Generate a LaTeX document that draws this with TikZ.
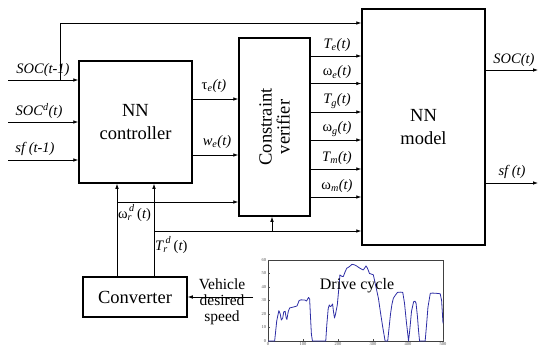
\documentclass[tikz,border=0pt]{standalone}
\usepackage{fontspec}
\setmainfont{Liberation Serif}
\usetikzlibrary{arrows.meta}
\definecolor{curveblue}{RGB}{45,45,165}
\tikzset{
  blk/.style={draw, line width=1.5pt, inner sep=0pt, fill=white},
  conn/.style={line width=0.8pt},
  arr/.style={conn, -{Latex[length=5pt,width=3.6pt]}},
  lbl/.style={font=\fontsize{14.5}{15}\selectfont\itshape, inner sep=0pt},
  big/.style={font=\fontsize{18.5}{23}\selectfont, align=center},
  tick/.style={font=\fontsize{4.5}{5}\selectfont, text=black!70, inner sep=0.8pt}
}
\begin{document}
\begin{tikzpicture}[x=1pt,y=-1pt]
\useasboundingbox (0,0) rectangle (538,349);
% blocks
\node[blk, minimum width=113pt, minimum height=122pt] (ctrl) at (135.5,122) {};
\node[big] at (ctrl.center) {NN\\controller};
\node[blk, minimum width=71pt, minimum height=178pt] (ver) at (274.5,127) {};
\node[big, rotate=90] at (ver.center) {Constraint\\[-5pt]verifier};
\node[blk, minimum width=123pt, minimum height=236pt] (model) at (423.5,127) {};
\node[big] at (model.center) {NN\\model};
\node[blk, minimum width=104pt, minimum height=40pt] (conv) at (135,297) {};
\node[big] at (conv.center) {Converter};

% inputs to controller
\coordinate (i1) at (8,80);
\coordinate (i2) at (8,122);
\coordinate (i3) at (8,160);
\coordinate (br) at (60,80);
\coordinate (top) at (60,23);
\draw[arr] (i1) -- (ctrl.west |- i1);
\draw[arr] (i2) -- (ctrl.west |- i2);
\draw[arr] (i3) -- (ctrl.west |- i3);
\draw[arr] (br) -- (top) -- (model.west |- top);
\node[lbl] at (43,70) {SOC(t-1)};
\node[lbl] at (39,111) {SOC\textsuperscript{d}(t)};
\node[lbl] at (35,149) {sf (t-1)};

% controller to verifier
\coordinate (c1) at (192,99);
\coordinate (c2) at (192,155);
\draw[arr] (ctrl.east |- c1) -- (ver.west |- c1);
\draw[arr] (ctrl.east |- c2) -- (ver.west |- c2);
\node[lbl] at (214,86) {\upshape τ\textsubscript{\itshape e}\itshape(t)};
\node[lbl] at (217,142) {w\textsubscript{e}(t)};

% verifier to model
\foreach \yy/\txt [count=\k] in {56/{T\textsubscript{e}(t)},83.5/{\upshape ω\textsubscript{\itshape e}\itshape(t)},112/{T\textsubscript{g}(t)},140/{\upshape ω\textsubscript{\itshape g}\itshape(t)},169/{T\textsubscript{m}(t)},197/{\upshape ω\textsubscript{\itshape m}\itshape(t)}}{
  \coordinate (v\k) at (310,\yy);
  \draw[arr] (ver.east |- v\k) -- (model.west |- v\k);
  \node[lbl] at (337,\yy-11) {\txt};
}

% outputs
\coordinate (o1) at (538,70);
\coordinate (o2) at (538,183);
\draw[arr] (model.east |- o1) -- (o1);
\draw[arr] (model.east |- o2) -- (o2);
\node[lbl] at (514,60) {SOC(t)};
\node[lbl] at (512,172) {sf (t)};

% converter outputs
\coordinate (wr) at (117,202);
\coordinate (tr) at (154,231);
\coordinate (trb) at (272,231);
\draw[arr] (conv.north -| wr) -- (ctrl.south -| wr);
\draw[arr] (conv.north -| tr) -- (ctrl.south -| tr);
\draw[arr] (wr) -- (ver.west |- wr);
\draw[arr] (tr) -- (model.west |- tr);
\draw[arr] (trb) -- (ver.south -| trb);
\node[lbl, anchor=west] at (118,213) {\upshape ω\textsubscript{\itshape r}\kern-3pt\raisebox{1pt}{\textsuperscript{\itshape d}}\,(\itshape t\upshape)};
\node[lbl, anchor=west] at (155,245) {T\textsubscript{r}\kern-2pt\raisebox{1pt}{\textsuperscript{d}}\,\upshape(\itshape t\upshape)};

% vehicle desired speed
\coordinate (vs) at (253,297);
\draw[arr] (vs) -- (conv.east |- vs);
\node[font=\fontsize{15.5}{16}\selectfont, align=center, inner sep=0pt] at (222,302) {Vehicle\\desired\\speed};

% drive cycle plot
\draw[line width=0.4pt, black!75] (268,260) rectangle (443,341);
\foreach \t in {0,100,...,500}{
  \draw[line width=0.3pt, black!70] (268+0.35*\t,341) -- (268+0.35*\t,339);
  \node[tick, anchor=north] at (268+0.35*\t,341.5) {\t};
}
\foreach \v in {0,10,...,60}{
  \draw[line width=0.3pt, black!70] (268,341-1.35*\v) -- (270,341-1.35*\v);
  \node[tick, anchor=east] at (267,341-1.35*\v) {\v};
}
\begin{scope}[shift={(268,341)}, x=0.35pt, y=1.35pt]
\draw[curveblue, line width=0.8pt, line join=round] plot coordinates {
(0,0) (19,0) (25,15) (31,22.5) (35,20) (38,15.5) (42,17) (45,21.6) (49,22) (52,17) (54,16) (58,22) (62,24.5) (70,25) (76,25.4) (83,26) (86,28) (89,30) (95,30.5) (100,30.4) (105,30.4) (110,29.6) (113,31) (116,32.3) (119,31) (121,20) (124,5) (127,0) (165,0) (168,12) (172,24) (175,26.7) (178,25.5) (181,26) (184.5,27.4) (187,22) (190,17) (193,20) (198,26.7) (202,38) (205.5,49) (210,48) (215,47.7) (220,51) (224.7,53.8) (232,55) (240,56.8) (246,56.5) (253,55.6) (262,54) (272,52.6) (276,54) (280,55.6) (284,54) (290,50) (296,49.5) (301,49) (306,43) (311,37) (315.5,31.6) (322,20) (328,10) (334.6,0) (342,0) (346,10) (350,20) (354,27) (358,31.6) (364,34) (370,36) (378,36.2) (385,36) (390,28) (395,15) (401.5,0) (405,8) (410,22) (416,29) (420,29.5) (423,28) (427,18) (430,8) (433,0) (449,0) (453,12) (457,25) (463.6,35.3) (470,35.5) (482,35.3) (492,35) (496,30) (500,13)};
\end{scope}
\node[font=\fontsize{16}{17}\selectfont, inner sep=0pt] (dc) at (357,286) {Drive cycle};
\end{tikzpicture}
\end{document}
